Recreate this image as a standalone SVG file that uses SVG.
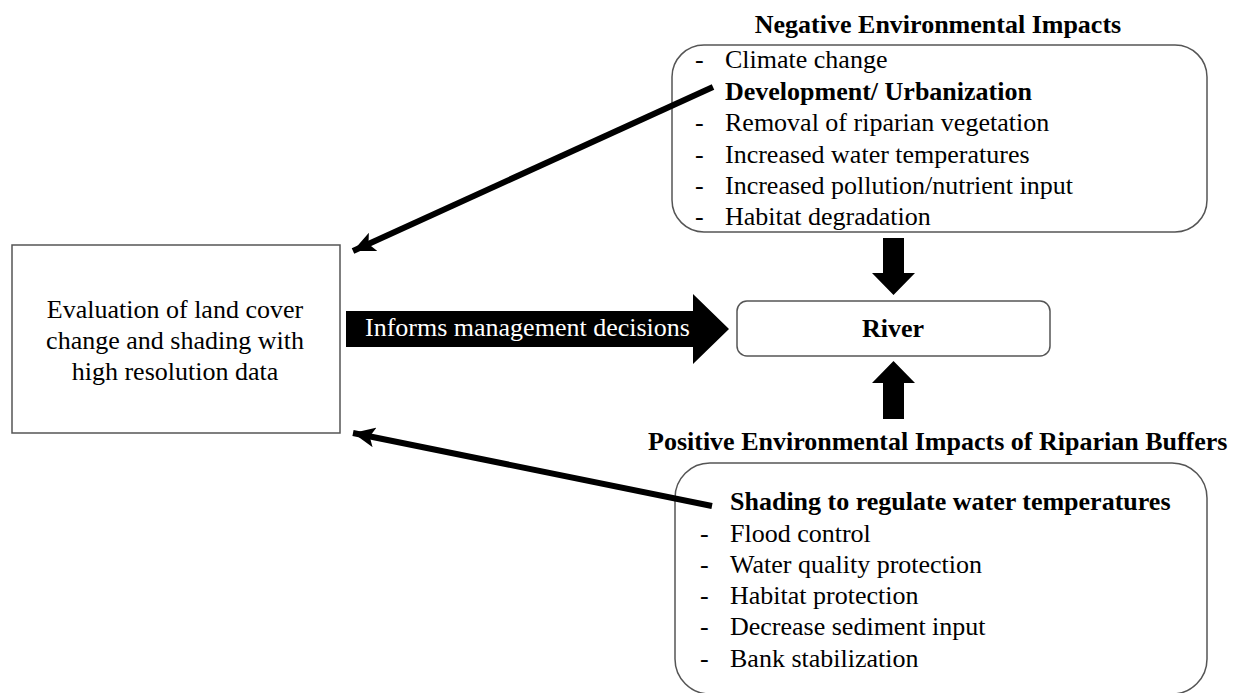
<svg xmlns="http://www.w3.org/2000/svg" width="1236" height="693" viewBox="0 0 1236 693">
<defs>
<marker id="ah" markerUnits="userSpaceOnUse" markerWidth="24" markerHeight="20" viewBox="0 0 24 20" refX="22" refY="10" orient="auto">
<path d="M0,0 L22,10 L0,20 L5,10 Z" fill="#000"/>
</marker>
</defs>
<style>
.box{fill:#fff;stroke:#555;stroke-width:1.5}
.t{font-family:"Liberation Serif","Times New Roman",serif;font-size:26px;fill:#000}
.b{font-weight:bold}
.conn{stroke:#000;stroke-width:6;fill:none}
</style>
<rect width="1236" height="693" fill="#fff"/>
<g id="eval">
<rect class="box" x="12" y="245" width="328" height="188"/>
<text class="t" x="175" y="318" text-anchor="middle">Evaluation of land cover</text>
<text class="t" x="175" y="349" text-anchor="middle">change and shading with</text>
<text class="t" x="175" y="380" text-anchor="middle">high resolution data</text>
</g>
<g id="negative">
<text class="t b" x="938" y="33" text-anchor="middle">Negative Environmental Impacts</text>
<rect class="box" x="672" y="45" width="535" height="187" rx="32" ry="32"/>
<text class="t" x="695" y="68">-</text><text class="t" x="725" y="68">Climate change</text>
<text class="t b" x="725" y="100">Development/ Urbanization</text>
<text class="t" x="695" y="131">-</text><text class="t" x="725" y="131">Removal of riparian vegetation</text>
<text class="t" x="695" y="163">-</text><text class="t" x="725" y="163">Increased water temperatures</text>
<text class="t" x="695" y="194">-</text><text class="t" x="725" y="194">Increased pollution/nutrient input</text>
<text class="t" x="695" y="225">-</text><text class="t" x="725" y="225">Habitat degradation</text>
</g>
<g id="river">
<rect class="box" x="737" y="301" width="313" height="55" rx="10" ry="10"/>
<text class="t b" x="893" y="337" text-anchor="middle">River</text>
</g>
<g id="positive">
<text class="t b" x="648" y="450">Positive Environmental Impacts of Riparian Buffers</text>
<rect class="box" x="675" y="463" width="532" height="231" rx="35" ry="35"/>
<text class="t b" x="730" y="510">Shading to regulate water temperatures</text>
<text class="t" x="700" y="542">-</text><text class="t" x="730" y="542">Flood control</text>
<text class="t" x="700" y="573">-</text><text class="t" x="730" y="573">Water quality protection</text>
<text class="t" x="700" y="604">-</text><text class="t" x="730" y="604">Habitat protection</text>
<text class="t" x="700" y="635">-</text><text class="t" x="730" y="635">Decrease sediment input</text>
<text class="t" x="700" y="667">-</text><text class="t" x="730" y="667">Bank stabilization</text>
</g>
<g id="connectors">
<line class="conn" x1="713" y1="87" x2="353" y2="251" marker-end="url(#ah)"/>
<line class="conn" x1="712" y1="506" x2="353" y2="433" marker-end="url(#ah)"/>
<polygon points="346,311 693,311 693,294 729,329 693,364 693,347 346,347" fill="#000"/>
<text class="t" x="365" y="336" fill="#fff" style="fill:#fff">Informs management decisions</text>
<polygon points="883,238 904,238 904,273 915,273 893.5,295 872,273 883,273" fill="#000"/>
<polygon points="893.5,361 915,383 904,383 904,419 883,419 883,383 872,383" fill="#000"/>
</g>
</svg>
